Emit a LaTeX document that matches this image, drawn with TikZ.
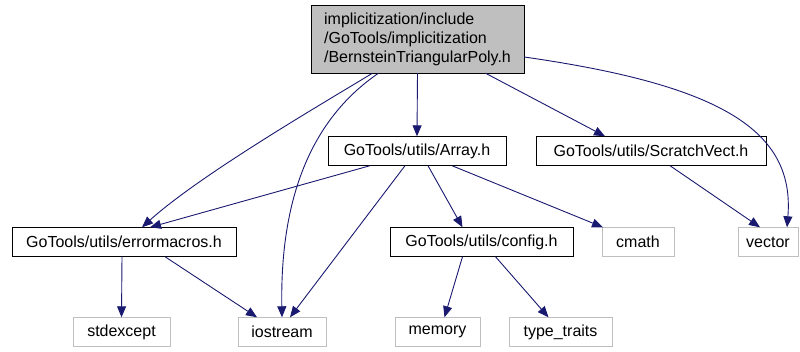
\documentclass[tikz,border=0pt]{standalone}
\usepackage{fontspec}
\setmainfont{Liberation Sans}
\usetikzlibrary{arrows.meta}
\definecolor{edgeblue}{HTML}{191970}
\definecolor{extgray}{HTML}{BFBFBF}
\tikzstyle{file} = [draw=black, rectangle, inner sep=2pt, minimum height=29pt, font=\fontsize{16}{19}\selectfont]
\tikzstyle{sysfile} = [file, draw=extgray]
\tikzstyle{dep} = [draw=edgeblue, line width=0.9pt, -{Triangle[length=11pt,width=9pt]}]

\begin{document}
\begin{tikzpicture}[x=1pt,y=-1pt]
\useasboundingbox (0,0) rectangle (800,352);

% Define nodes
\node[file, fill=gray!50, align=left, minimum width=213pt, minimum height=68pt]
                                           (top)  at (417.5,39)  {implicitization/include\\/GoTools/implicitization\\/BernsteinTriangularPoly.h};
\node[file,    minimum width=178pt]        (arr)  at (417,151)   {GoTools/utils/Array.h};
\node[file,    minimum width=230pt]        (scr)  at (651,151)   {GoTools/utils/ScratchVect.h};
\node[file,    minimum width=224pt]        (err)  at (124,242)   {GoTools/utils/errormacros.h};
\node[file,    minimum width=183pt]        (cfg)  at (481.5,242) {GoTools/utils/config.h};
\node[sysfile, minimum width=72pt]         (cm)   at (638,242)   {cmath};
\node[sysfile, minimum width=60pt]         (vec)  at (768,242)   {vector};
\node[sysfile, minimum width=97pt]         (exc)  at (121.5,332) {stdexcept};
\node[sysfile, minimum width=88pt]         (ios)  at (282,332)   {iostream};
\node[sysfile, minimum width=85pt]         (mem)  at (437.5,332) {memory};
\node[sysfile, minimum width=103pt]        (tt)   at (560.5,332) {type\_traits};

% Edges
\draw[dep] ([xshift=-45pt]top.south) .. controls (320,105) and (200,175) .. ([xshift=18pt]err.north);
\draw[dep] ([xshift=-39pt]top.south) .. controls (310,120) and (280,200) .. (ios.north);
\draw[dep] (top.south) -- (arr.north);
\draw[dep] ([xshift=68pt]top.south) -- ([xshift=-46pt]scr.north);
\draw[dep] ([yshift=-18pt]top.east) .. controls (720,85) and (795,130) .. ([xshift=19pt]vec.north);
\draw[dep] ([xshift=-47pt]arr.south) -- ([xshift=26pt]err.north);
\draw[dep] ([xshift=-12pt]arr.south) -- ([xshift=8pt]ios.north);
\draw[dep] ([xshift=11pt]arr.south) -- ([xshift=-19pt]cfg.north);
\draw[dep] ([xshift=35pt]arr.south) -- ([xshift=-35pt]cm.north);
\draw[dep] ([xshift=19pt]scr.south) -- ([xshift=-8pt]vec.north);
\draw[dep] ([xshift=-2pt]err.south) -- (exc.north);
\draw[dep] ([xshift=41pt]err.south) -- ([xshift=-25pt]ios.north);
\draw[dep] ([xshift=-19pt]cfg.south) -- ([xshift=7pt]mem.north);
\draw[dep] ([xshift=14pt]cfg.south) -- ([xshift=-12pt]tt.north);
\end{tikzpicture}
\end{document}
